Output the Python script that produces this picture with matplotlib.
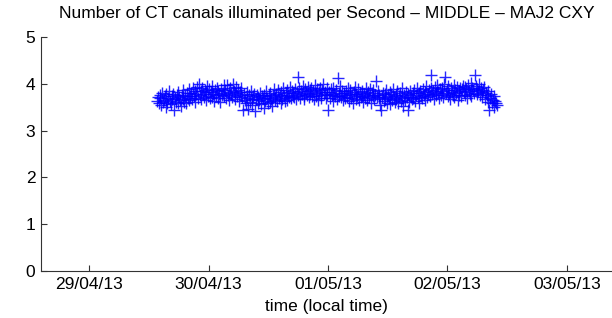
import matplotlib
matplotlib.use('Agg')
import matplotlib.pyplot as plt
import matplotlib.dates as mdates
import pandas as pd

plt.rcParams['font.family'] = ['Liberation Sans', 'DejaVu Sans']

title = "Number of CT canals illuminated per Second \u2013 MIDDLE \u2013 MAJ2 CXY"
xlabel = "time (local time)"
start_time = "2013-04-29 13:40"
sample_step = "616s"

values = [
    3.64,3.71,3.58,3.75,3.69,3.55,3.80,3.62,3.66,3.73,3.51,3.78,3.60,3.70,3.84,3.63,3.57,3.74,3.67,3.79,
    3.45,3.69,3.61,3.76,3.82,3.58,3.71,3.65,3.52,3.77,3.68,3.86,3.62,3.73,3.59,3.80,3.70,3.66,3.88,3.74,
    3.81,3.67,3.90,3.73,3.85,3.62,3.78,3.93,3.70,4.00,3.76,3.84,3.68,3.91,3.79,3.72,3.87,3.65,3.83,3.95,
    3.74,3.88,3.69,3.82,3.96,3.71,3.79,3.64,3.87,3.76,3.92,3.70,3.84,3.78,3.62,3.89,3.75,3.81,3.97,3.73,
    3.86,3.70,3.98,3.77,3.83,3.66,3.91,3.79,3.72,3.99,3.85,3.68,3.80,3.94,3.74,3.87,3.63,3.82,3.76,3.90,
    3.71,3.43,3.78,3.65,3.58,3.82,3.69,3.46,3.75,3.61,3.84,3.67,3.54,3.73,3.79,3.42,3.68,3.76,3.60,3.72,
    3.66,3.80,3.57,3.73,3.69,3.49,3.77,3.64,3.85,3.70,3.59,3.75,3.62,3.81,3.68,3.53,3.74,3.88,3.65,3.71,
    3.78,3.63,3.86,3.70,3.75,3.58,3.82,3.68,3.91,3.73,3.64,3.80,3.87,3.66,3.77,3.71,3.93,3.69,3.84,3.74,
    3.80,3.72,3.89,3.67,3.83,4.15,3.76,3.92,3.70,3.85,3.78,3.96,3.73,3.68,3.88,3.81,3.75,3.94,3.71,3.86,
    3.79,3.90,3.74,3.84,3.67,3.97,3.80,3.73,3.88,3.65,3.83,3.92,3.76,3.70,3.86,3.99,3.78,3.82,3.69,3.91,
    3.75,3.44,3.83,3.70,3.88,3.77,3.64,3.92,3.79,3.73,3.86,3.68,4.12,3.81,3.74,3.95,3.71,3.85,3.66,3.80,
    3.77,3.69,3.84,3.72,3.90,3.63,3.79,3.86,3.70,3.75,3.58,3.82,3.93,3.67,3.78,3.73,3.88,3.65,3.81,3.71,
    3.74,3.85,3.62,3.79,3.70,3.91,3.76,3.66,3.83,3.72,3.88,3.59,3.80,3.74,3.87,3.68,3.77,4.05,3.71,3.84,
    3.69,3.76,3.55,3.44,3.72,3.81,3.63,3.78,3.67,3.86,3.60,3.74,3.70,3.83,3.57,3.79,3.65,3.88,3.71,3.62,
    3.77,3.68,3.84,3.59,3.73,3.80,3.64,3.90,3.70,3.53,3.76,3.66,3.82,3.71,3.44,3.79,3.61,3.85,3.72,3.67,
    3.80,3.70,3.87,3.63,3.76,3.92,3.72,3.81,3.58,3.85,3.74,3.69,3.89,3.77,3.66,3.83,3.95,3.71,3.79,3.86,
    3.73,3.90,4.19,3.78,3.84,3.68,3.93,3.80,3.75,3.97,3.82,3.70,3.88,3.76,3.91,3.85,3.72,3.99,4.15,3.81,
    3.87,3.74,3.95,3.79,3.68,3.90,3.83,3.76,3.98,3.71,3.86,3.80,3.93,3.65,3.84,3.77,3.91,3.73,3.88,3.96,
    3.82,3.93,3.76,3.89,3.70,3.98,3.85,3.79,4.02,3.74,3.91,3.87,3.81,4.19,3.95,3.78,3.88,3.84,3.99,3.76,
    3.90,3.83,3.72,3.86,3.94,3.68,3.80,3.75,3.62,3.85,3.44,3.70,3.78,3.58,3.66,3.74,3.50,3.63,3.60,3.55,
]

times = pd.date_range(start_time, periods=len(values), freq=sample_step)

fig = plt.figure(figsize=(6.12, 3.18), dpi=100)
ax = fig.add_axes([41/612, 47/318, (612-41)/612, 234/318])

ax.plot(times, values, '+', color='blue', ms=8, mew=1.0, alpha=0.85)

x0 = mdates.date2num(pd.Timestamp("2013-04-29")) - 0.402
x1 = mdates.date2num(pd.Timestamp("2013-05-03")) + 0.377
ax.set_xlim(x0, x1)
ax.set_ylim(0, 5)
ax.set_yticks([0, 1, 2, 3, 4, 5])
ax.xaxis.set_major_locator(mdates.DayLocator())
ax.xaxis.set_major_formatter(mdates.DateFormatter('%d/%m/%y'))

for s in ['top', 'right']:
    ax.spines[s].set_visible(False)
for s in ['left', 'bottom']:
    ax.spines[s].set_color('#333333')
    ax.spines[s].set_linewidth(0.8)
ax.tick_params(direction='in', length=4, width=0.8, color='#333333',
               labelsize=12.5, labelcolor='black', pad=4)

ax.set_title(title, fontsize=12.5, pad=14)
ax.set_xlabel(xlabel, fontsize=12.5, labelpad=5)

fig.savefig('out.png', dpi=100)
